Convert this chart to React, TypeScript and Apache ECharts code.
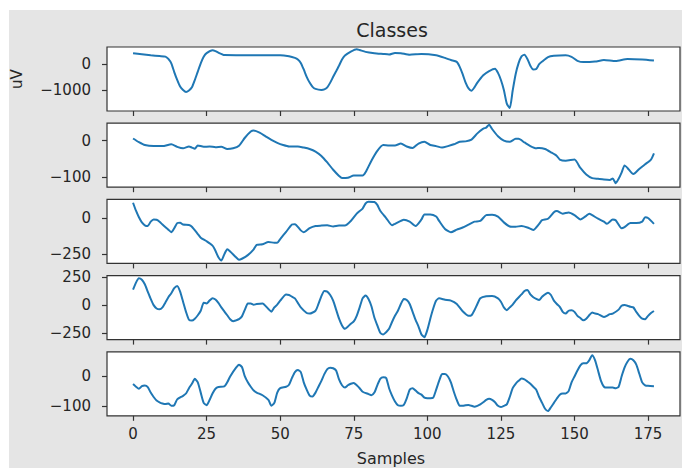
import { useEffect, useRef } from "react";
import * as echarts from "echarts";

// Sample index on the x axis, one trace per class panel: [sample, microvolts]
const classTrace1: [number, number][] = [
  [0, 420], [3, 380], [6, 340], [9, 310], [11, 290], [12, 200], [13, 30], [14, -300], [15, -600],
  [16, -850], [17, -980], [18, -1060], [19, -1000], [20, -880], [21, -600], [22, -280], [23, 30],
  [24, 280], [25, 420], [27, 530], [28, 500], [29, 440], [31, 350], [35, 345], [40, 345], [45, 340],
  [50, 340], [53, 300], [55, 240], [56, 180], [57, 50], [58, -200], [59, -480], [60, -700], [61, -860],
  [62, -940], [64, -980], [65, -960], [66, -880], [67, -700], [68, -480], [69, -270], [70, -50],
  [71, 180], [72, 330], [74, 480], [76, 570], [77, 540], [79, 470], [82, 420], [85, 390], [87, 370],
  [89, 430], [91, 420], [94, 360], [98, 390], [103, 340], [106, 240], [108, 160], [110, 90],
  [111, -100], [112, -380], [113, -700], [114, -920], [115, -1010], [116, -880], [117, -700],
  [119, -420], [121, -260], [123, -170], [124, -330], [125, -600], [126, -980], [127, -1500],
  [128, -1670], [129, -1000], [130, -380], [131, 40], [132, 300], [133, 360], [134, 200], [135, -60],
  [136, -200], [137, -180], [138, 0], [139, 100], [141, 270], [143, 320], [147, 340], [149, 280],
  [151, 130], [153, 80], [157, 100], [160, 160], [164, 120], [168, 200], [173, 180], [177, 140],
];

const classTrace2: [number, number][] = [
  [0, 6], [2, -4], [4, -12], [7, -15], [10, -15], [13, -10], [15, -17], [17, -21], [19, -16], [20, -19],
  [21, -22], [22, -13], [24, -17], [26, -16], [28, -18], [30, -17], [32, -23], [34, -21], [36, -14],
  [38, 8], [40, 25], [41, 28], [43, 22], [45, 12], [47, 2], [49, -6], [51, -12], [53, -16], [56, -16],
  [58, -19], [60, -23], [62, -30], [64, -42], [66, -60], [68, -80], [70, -97], [71, -103], [73, -102],
  [75, -96], [78, -96], [79, -87], [81, -55], [83, -28], [85, -12], [87, -13], [89, -13], [91, -8],
  [93, -16], [95, -20], [97, -8], [99, -3], [101, -12], [103, -15], [105, -19], [107, -15], [109, -10],
  [111, -3], [113, -2], [115, 3], [117, 20], [119, 33], [120, 36], [121, 44], [122, 32], [124, 12],
  [126, 0], [128, -3], [130, 5], [131, 5], [133, -5], [135, -15], [137, -21], [138, -20], [140, -23],
  [142, -32], [144, -42], [145, -52], [147, -55], [150, -52], [152, -75], [154, -93], [156, -103],
  [158, -105], [160, -107], [162, -108], [163, -104], [164, -117], [165, -105], [166, -88], [167, -68],
  [168, -75], [170, -92], [172, -78], [174, -65], [176, -52], [177, -35],
];

const classTrace3: [number, number][] = [
  [0, 105], [1, 50], [2, 5], [3, -30], [4, -50], [5, -55], [6, -25], [7, -10], [8, -12], [9, -25],
  [10, -45], [12, -80], [13, -98], [14, -70], [15, -35], [16, -32], [17, -45], [19, -48], [20, -60],
  [22, -110], [23, -135], [25, -160], [27, -190], [28, -225], [29, -270], [30, -292], [31, -250],
  [32, -215], [33, -230], [35, -270], [36, -287], [37, -280], [39, -255], [41, -215], [42, -185],
  [44, -180], [46, -165], [48, -170], [49, -170], [50, -145], [52, -95], [54, -45], [55, -42],
  [57, -85], [58, -98], [60, -70], [62, -55], [64, -52], [66, -50], [68, -58], [70, -52], [72, -52],
  [74, -20], [76, 30], [78, 65], [79, 100], [80, 112], [82, 110], [83, 90], [84, 50], [86, 0],
  [88, -50], [89, -40], [91, -20], [92, -12], [94, -25], [96, -55], [98, -10], [99, 25], [101, 25],
  [103, 10], [104, -20], [106, -75], [108, -98], [110, -80], [112, -65], [114, -45], [116, -25],
  [118, -20], [120, 20], [122, 22], [124, 10], [126, -30], [128, -58], [130, -60], [132, -55],
  [134, -65], [136, -82], [138, -40], [139, -15], [141, -5], [143, 40], [144, 48], [146, 30],
  [148, 38], [150, 20], [152, -10], [154, 15], [155, 30], [156, 20], [158, -5], [160, -25], [161, -40],
  [163, -10], [164, -15], [166, -70], [167, -62], [169, -35], [171, -35], [173, -25], [174, 5],
  [175, 0], [177, -40],
];

const classTrace4: [number, number][] = [
  [0, 137], [1, 200], [2, 238], [3, 225], [4, 185], [5, 120], [6, 55], [7, 0], [8, -30], [9, -37],
  [10, -20], [11, 24], [12, 70], [13, 105], [14, 150], [15, 170], [16, 120], [17, 30], [18, -60],
  [19, -130], [20, -137], [21, -120], [22, -90], [23, -50], [24, 20], [25, 15], [26, 40], [27, 62],
  [28, 50], [29, 20], [30, -20], [31, -55], [32, -90], [33, -125], [34, -143], [35, -135], [36, -125],
  [37, -100], [38, -40], [39, 15], [40, 15], [41, 3], [42, 10], [44, 15], [46, -35], [47, -58],
  [48, -20], [49, 5], [50, 40], [52, 95], [53, 90], [54, 75], [55, 60], [56, 20], [57, -20], [59, -70],
  [60, -75], [62, -50], [63, 10], [64, 80], [65, 125], [66, 120], [67, 90], [68, 40], [69, -40],
  [70, -120], [71, -180], [72, -210], [73, -190], [74, -165], [75, -145], [76, -95], [77, -20],
  [78, 60], [79, 85], [80, 55], [81, -10], [82, -110], [83, -180], [84, -245], [85, -260], [86, -240],
  [87, -210], [88, -150], [89, -95], [90, -50], [91, 10], [92, 55], [93, 45], [94, 10], [95, -60],
  [96, -130], [97, -190], [98, -260], [99, -285], [100, -220], [101, -120], [102, -30], [103, 40],
  [104, 60], [106, 48], [108, 40], [110, 10], [112, -55], [114, -95], [115, -90], [116, -45],
  [117, 10], [118, 60], [120, 78], [122, 80], [124, 60], [125, 30], [126, -20], [127, -45], [128, -20],
  [129, 5], [130, 40], [132, 95], [133, 125], [134, 135], [135, 95], [136, 70], [137, 55], [138, 45],
  [139, 75], [141, 110], [142, 90], [143, 40], [144, 10], [145, -15], [146, -60], [147, -75],
  [148, -50], [149, -45], [150, -60], [151, -95], [152, -115], [153, -135], [154, -120], [155, -90],
  [156, -65], [157, -75], [158, -80], [160, -105], [161, -95], [162, -80], [163, -75], [165, -40],
  [166, -5], [167, 0], [168, -5], [169, -15], [170, -20], [171, -60], [172, -95], [173, -120],
  [174, -125], [175, -95], [176, -70], [177, -52],
];

const classTrace5: [number, number][] = [
  [0, -26], [1, -35], [2, -42], [3, -33], [4, -31], [5, -36], [6, -55], [7, -70], [8, -82], [9, -88],
  [10, -92], [11, -94], [12, -92], [13, -100], [14, -98], [15, -78], [17, -66], [18, -58], [19, -40],
  [20, -25], [21, -8], [22, -20], [23, -55], [24, -90], [25, -98], [26, -80], [27, -58], [28, -42],
  [29, -36], [31, -34], [32, -20], [33, 0], [35, 30], [36, 40], [37, 32], [38, 0], [39, -20], [40, -35],
  [41, -48], [42, -55], [44, -64], [46, -80], [47, -100], [48, -90], [49, -55], [50, -40], [52, -35],
  [53, -28], [54, -5], [55, 15], [56, 22], [57, 15], [58, -20], [59, -45], [60, -65], [61, -68],
  [62, -55], [63, -35], [64, -15], [65, 8], [66, 25], [67, 30], [68, 28], [69, 20], [70, -10],
  [71, -30], [72, -38], [73, -30], [74, -25], [75, -22], [76, -30], [77, -40], [78, -52], [80, -60],
  [81, -64], [82, -55], [83, -30], [84, -8], [85, -3], [86, -5], [87, -40], [88, -65], [89, -85],
  [90, -98], [91, -100], [92, -97], [93, -75], [94, -45], [95, -40], [96, -48], [97, -57], [98, -62],
  [99, -72], [100, -74], [101, -74], [102, -72], [103, -45], [104, -15], [105, 8], [106, 8], [107, 0],
  [108, -20], [109, -52], [110, -80], [111, -100], [112, -100], [113, -98], [114, -97], [115, -100],
  [116, -103], [117, -100], [118, -95], [119, -88], [120, -80], [121, -76], [122, -80], [123, -88],
  [124, -100], [125, -104], [126, -100], [127, -95], [128, -70], [129, -40], [130, -25], [131, -15],
  [132, -7], [133, -10], [134, -17], [135, -25], [136, -35], [137, -45], [138, -70], [139, -90],
  [140, -110], [141, -118], [142, -105], [143, -90], [144, -75], [145, -62], [146, -58], [147, -58],
  [148, -50], [149, -20], [150, 0], [151, 20], [152, 38], [153, 45], [154, 45], [155, 55], [156, 72],
  [157, 55], [158, 20], [159, -15], [160, -35], [161, -38], [163, -38], [164, -40], [165, -35],
  [166, 0], [167, 30], [168, 50], [169, 60], [170, 55], [171, 40], [172, 10], [173, -20], [174, -30],
  [175, -32], [177, -33],
];

const traces = [classTrace1, classTrace2, classTrace3, classTrace4, classTrace5];

// Tick labels
const sampleTicks = [0, 25, 50, 75, 100, 125, 150, 175];
const voltTicks = [[-1000, 0], [-100, 0], [-250, 0], [-250, 0, 250], [-100, 0]];

// Axis extents (data range plus a 5% margin)
const sampleRange: [number, number] = [-8.85, 185.85];
const voltRanges: [number, number][] = [
  [-1780, 655],
  [-128, 48],
  [-312, 128],
  [-306, 262],
  [-134, 84],
];

const TITLE = "Classes";
const X_LABEL = "Samples";
const Y_LABEL = "uV";

const FONT = "DejaVu Sans";
const TEXT_COLOR = "#262626";
const LINE_COLOR = "#1f77b4";
const FRAME_COLOR = "#333";

const fmt = (v: number) => String(v).replace("-", "\u2212");

export default function App() {
  const ref = useRef<HTMLDivElement>(null);

  useEffect(() => {
    if (!ref.current) return;
    const chart = echarts.init(ref.current, undefined, { renderer: "svg" });

    const panelLeft = 98;
    const panelWidth = 573;
    const panelTop0 = 37;
    const panelStep = 76.2;
    const panelHeight = 64;
    const last = traces.length - 1;

    const grid = traces.map((_, k) => ({
      left: panelLeft,
      top: panelTop0 + k * panelStep,
      width: panelWidth,
      height: panelHeight,
      show: true,
      backgroundColor: "#fff",
      borderColor: FRAME_COLOR,
      borderWidth: 1.2,
      containLabel: false,
    }));

    const xAxis = traces.map((_, k) => ({
      type: "value" as const,
      gridIndex: k,
      position: "bottom" as const,
      min: sampleRange[0],
      max: sampleRange[1],
      axisLine: { show: false, onZero: false },
      splitLine: { show: false },
      axisTick: {
        show: true,
        inside: false,
        length: 5,
        customValues: sampleTicks,
        lineStyle: { color: FRAME_COLOR, width: 1.2 },
      },
      axisLabel: {
        show: k === last,
        customValues: sampleTicks,
        margin: 11,
        fontSize: 15,
        fontFamily: FONT,
        color: TEXT_COLOR,
        formatter: fmt,
      },
    }));

    const yAxis = traces.map((_, k) => ({
      type: "value" as const,
      gridIndex: k,
      position: "left" as const,
      min: voltRanges[k][0],
      max: voltRanges[k][1],
      axisLine: { show: false, onZero: false },
      splitLine: { show: false },
      axisTick: {
        show: true,
        inside: false,
        length: 5,
        customValues: voltTicks[k],
        lineStyle: { color: FRAME_COLOR, width: 1.2 },
      },
      axisLabel: {
        show: true,
        customValues: voltTicks[k],
        margin: 16,
        fontSize: 15,
        fontFamily: FONT,
        color: TEXT_COLOR,
        formatter: fmt,
      },
    }));

    const series = traces.map((trace, k) => ({
      type: "line" as const,
      xAxisIndex: k,
      yAxisIndex: k,
      data: trace,
      showSymbol: false,
      smooth: 0.2,
      lineStyle: { color: LINE_COLOR, width: 2 },
    }));

    chart.setOption({
      animation: false,
      backgroundColor: "#e5e5e5",
      grid,
      xAxis,
      yAxis,
      series,
      graphic: [
        {
          type: "text",
          x: 383,
          y: 20,
          style: {
            text: TITLE,
            fontSize: 19,
            fontFamily: FONT,
            fill: TEXT_COLOR,
            textAlign: "center",
            textVerticalAlign: "middle",
          },
        },
        {
          type: "text",
          x: 382,
          y: 448,
          style: {
            text: X_LABEL,
            fontSize: 16,
            fontFamily: FONT,
            fill: TEXT_COLOR,
            textAlign: "center",
            textVerticalAlign: "middle",
          },
        },
        {
          type: "text",
          x: 8,
          y: 69,
          rotation: Math.PI / 2,
          style: {
            text: Y_LABEL,
            fontSize: 15,
            fontFamily: FONT,
            fill: TEXT_COLOR,
            textAlign: "center",
            textVerticalAlign: "middle",
          },
        },
      ],
    });

    return () => chart.dispose();
  }, []);

  return (
    <div
      ref={ref}
      style={{ position: "absolute", left: 9, top: 10, width: 673, height: 458 }}
    />
  );
}
